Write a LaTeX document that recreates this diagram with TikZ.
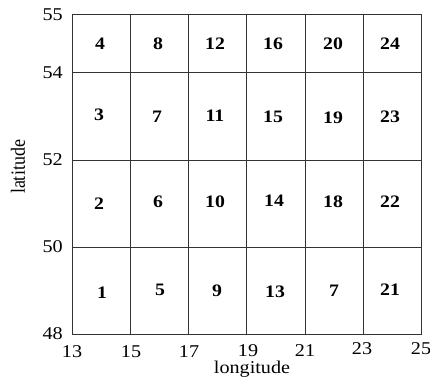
\documentclass[tikz,border=0pt]{standalone}
\usepackage{fontspec}
\setmainfont{Liberation Serif}
\begin{document}
\begin{tikzpicture}[x=1pt,y=-1pt,
  gridline/.style={line width=0.9pt,draw=black!80},
  axlabel/.style={font=\fontsize{18}{18}\selectfont,inner sep=0pt,xscale=1.12},
  cellnum/.style={font=\fontsize{17.5}{17.5}\selectfont\bfseries,inner sep=0pt,xscale=1.13}]
\useasboundingbox (0,0) rectangle (430,381);
% grid
\draw[gridline] (72,14) rectangle (421.5,334);
\foreach \x in {130,188.3,246.6,305,363.2}
  \draw[gridline] (\x,14) -- (\x,334);
\foreach \y in {72,160,247}
  \draw[gridline] (72,\y) -- (421.5,\y);
% y-axis labels
\node[axlabel,anchor=east] (l55) at (63,15) {55};
\node[axlabel,anchor=east] (l54) at (63,73) {54};
\node[axlabel,anchor=east] (l52) at (63,160) {52};
\node[axlabel,anchor=east] (l50) at (63,247) {50};
\node[axlabel,anchor=east] (l48) at (63,334) {48};
% x-axis labels
\node[axlabel] (b13) at (72,352) {13};
\node[axlabel] (b15) at (131,352) {15};
\node[axlabel] (b17) at (189,352) {17};
\node[axlabel] (b19) at (248,350.5) {19};
\node[axlabel] (b21) at (305,351) {21};
\node[axlabel] (b23) at (362,349) {23};
\node[axlabel] (b25) at (421,349) {25};
\node[axlabel,anchor=base] (xlab) at (252,373) {longitude};
\node[axlabel,rotate=90] (ylab) at (18,167) {latitude};
% cell numbers
\node[cellnum] (c4) at (100,44) {4};
\node[cellnum] (c8) at (158,44) {8};
\node[cellnum] (c12) at (215,44) {12};
\node[cellnum] (c16) at (273,44) {16};
\node[cellnum] (c20) at (333,44) {20};
\node[cellnum] (c24) at (390,44) {24};
\node[cellnum] (c3) at (99,115) {3};
\node[cellnum] (c7) at (157,117) {7};
\node[cellnum] (c11) at (215,116) {11};
\node[cellnum] (c15) at (273,117) {15};
\node[cellnum] (c19) at (333,118) {19};
\node[cellnum] (c23) at (390,117) {23};
\node[cellnum] (c2) at (99,204) {2};
\node[cellnum] (c6) at (158,202) {6};
\node[cellnum] (c10) at (215,202) {10};
\node[cellnum] (c14) at (274,201) {14};
\node[cellnum] (c18) at (333,202) {18};
\node[cellnum] (c22) at (390,202) {22};
\node[cellnum] (c1) at (102,293) {1};
\node[cellnum] (c5) at (160,290) {5};
\node[cellnum] (c9) at (217,291) {9};
\node[cellnum] (c13) at (275,292) {13};
\node[cellnum] (c7b) at (334,291) {7};
\node[cellnum] (c21) at (390,290) {21};
\end{tikzpicture}
\end{document}
